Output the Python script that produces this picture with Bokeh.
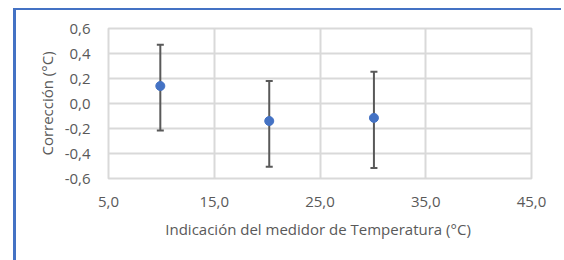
from bokeh.plotting import figure
from bokeh.models import (ColumnDataSource, Whisker, TeeHead, FixedTicker,
                          CustomJSTickFormatter, Range1d)
from bokeh.embed import file_html
from bokeh.resources import INLINE

# data
temperatura = [9.9, 20.2, 30.1]
correccion = [0.14, -0.14, -0.115]
limite_sup = [0.47, 0.18, 0.255]
limite_inf = [-0.215, -0.505, -0.515]
x_ticks = [5, 15, 25, 35, 45]
y_ticks = [-0.6, -0.4, -0.2, 0.0, 0.2, 0.4, 0.6]

FONT = "Open Sans"
GRID = "#D9D9D9"
TXT = "#595959"

src = ColumnDataSource(dict(x=temperatura, y=correccion,
                            upper=limite_sup, lower=limite_inf))

p = figure(frame_width=423, frame_height=150, output_backend="svg",
           toolbar_location=None,
           x_range=Range1d(5, 45), y_range=Range1d(-0.6, 0.6),
           min_border_left=92, min_border_right=30, min_border_top=18,
           min_border_bottom=82)
p.margin = (8, 0, 0, 13)
p.styles = {"border-left": "3px solid #4472C4", "border-top": "2px solid #4472C4"}
p.outline_line_color = GRID
p.outline_line_width = 2

fmt = CustomJSTickFormatter(code="return tick.toFixed(1).replace('.', ',');")
for ax, ticks in ((p.xaxis, x_ticks), (p.yaxis, y_ticks)):
    ax.ticker = FixedTicker(ticks=ticks)
    ax.formatter = fmt
    ax.axis_line_color = None
    ax.major_tick_line_color = None
    ax.minor_tick_line_color = None
    ax.major_label_text_font = FONT
    ax.major_label_text_font_size = "15px"
    ax.major_label_text_color = TXT
    ax.axis_label_text_font = FONT
    ax.axis_label_text_font_size = "15px"
    ax.axis_label_text_color = TXT
    ax.axis_label_text_font_style = "normal"

p.xaxis.axis_label = "Indicación del medidor de Temperatura  (°C)"
p.yaxis.axis_label = "Corrección (°C)"
p.xaxis.major_label_standoff = 12
p.xaxis.axis_label_standoff = 9
p.yaxis.major_label_standoff = 12
p.yaxis.axis_label_standoff = 5

p.xgrid.ticker = FixedTicker(ticks=x_ticks)
p.ygrid.ticker = FixedTicker(ticks=y_ticks)
p.grid.grid_line_color = GRID
p.grid.grid_line_width = 2

w = Whisker(source=src, base="x", upper="upper", lower="lower",
            dimension="height", line_color="#595959", line_width=2,
            upper_head=TeeHead(size=7, line_color="#595959", line_width=2),
            lower_head=TeeHead(size=7, line_color="#595959", line_width=2))
p.add_layout(w)
p.scatter("x", "y", source=src, size=9, fill_color="#4472C4",
          line_color="#4472C4")

open("out.html", "w").write(file_html(p, INLINE))
